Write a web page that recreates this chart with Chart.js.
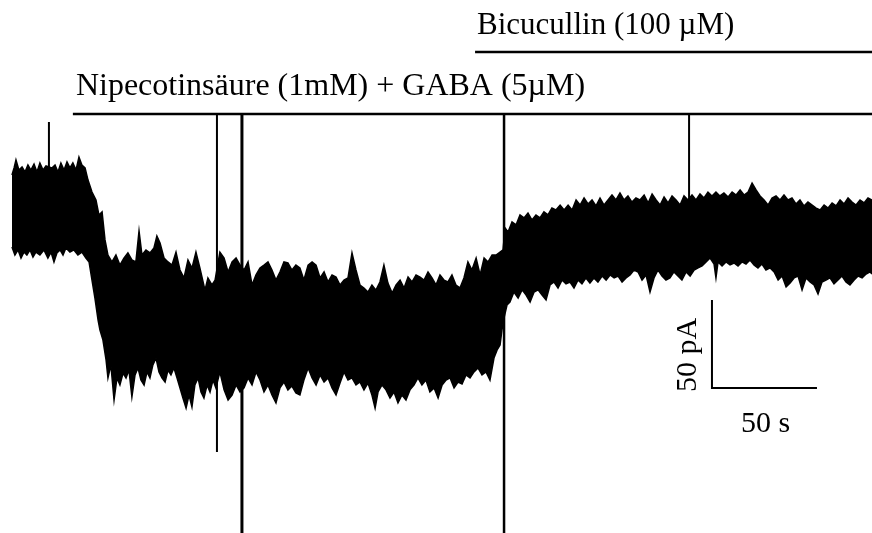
<!DOCTYPE html>
<html>
<head>
<meta charset="utf-8">
<script src="https://cdn.jsdelivr.net/npm/chart.js@4.4.1/dist/chart.umd.min.js"></script>
<style>
  body { margin: 0; background: #fff; }
  canvas { display: block; }
</style>
</head>
<body>
<canvas id="trace" width="872" height="533"></canvas>
<script>
// time in s, current in pA (50 s / 50 pA scale bar)
var upperEdge = [
  [0,19.9],[1.0,23.9],[1.9,28.4],[3.3,22.7],[4.8,24.4],[6.2,21.6],[7.6,25.6],[9.0,22.7],[10.5,26.1],[11.9,21.6],
  [13.3,26.7],[14.8,22.7],[16.2,25.0],[19.0,23.9],[20.5,25.6],[21.9,21.6],[23.3,26.7],[24.8,22.7],[26.2,27.3],[27.6,23.9],
  [29.0,26.7],[30.5,22.7],[31.9,30.1],[33.3,25.6],[34.8,23.9],[36.2,17.0],[38.1,10.2],[40.0,5.7],[41.4,-2.8],[42.9,-1.1],
  [44.3,-17.0],[45.7,-25.6],[47.6,-29.5],[49.5,-25.6],[51.4,-31.3],[53.3,-27.3],[55.2,-24.4],[57.1,-28.4],[59.0,-29.5],[60.5,-11.9],
  [61.9,-25.6],[63.8,-22.7],[65.7,-24.4],[67.6,-21.6],[69.0,-14.8],[70.5,-18.8],[72.4,-27.3],[74.3,-29.5],[76.2,-31.3],[78.1,-23.9],
  [80.0,-34.1],[81.9,-38.6],[83.8,-28.4],[85.7,-33.0],[87.6,-23.9],[89.5,-33.0],[91.9,-45.5],[93.3,-38.6],[95.2,-42.6],[96.7,-39.8],
  [99.0,-23.9],[101.0,-27.3],[102.9,-35.2],[104.8,-29.5],[106.7,-27.3],[108.6,-31.3],[110.5,-34.1],[112.4,-29.5],[114.3,-42.6],[116.2,-36.9],
  [118.1,-33.0],[120.0,-31.3],[121.9,-29.5],[123.8,-34.1],[125.7,-39.8],[127.6,-35.2],[129.5,-29.5],[131.4,-30.1],[133.3,-34.1],[135.2,-31.3],
  [137.1,-33.0],[139.0,-39.8],[141.0,-31.3],[142.9,-29.5],[144.8,-31.3],[146.7,-38.6],[148.6,-35.2],[150.5,-40.9],[152.4,-36.9],[154.3,-38.1],
  [156.2,-42.6],[158.1,-39.8],[160.0,-38.6],[161.9,-24.4],[163.8,-34.1],[165.7,-42.6],[167.6,-44.3],[169.5,-46.6],[171.4,-42.6],[173.3,-45.5],
  [175.2,-40.9],[177.1,-31.3],[179.0,-41.5],[181.0,-47.2],[182.9,-42.6],[184.8,-39.8],[186.7,-44.3],[188.6,-38.1],[190.5,-40.9],[192.4,-36.9],
  [194.3,-38.1],[196.2,-39.8],[198.1,-35.2],[200.0,-38.6],[201.9,-42.6],[203.8,-36.9],[205.7,-39.8],[207.6,-40.9],[209.5,-36.9],[211.4,-42.6],
  [213.3,-44.3],[215.2,-38.6],[217.1,-29.5],[219.0,-34.1],[221.0,-27.3],[222.9,-36.9],[224.8,-27.3],[226.7,-29.5],[228.6,-25.6],[230.5,-25.6],
  [232.4,-23.9],[233.8,-22.7],[234.8,-10.2],[236.2,-12.5],[238.1,-6.8],[240.0,-8.5],[241.9,-2.8],[243.8,-4.5],[245.7,-1.7],[247.6,-5.7],
  [249.5,-2.8],[251.4,-4.5],[253.3,-1.1],[255.2,-2.8],[257.1,1.1],[259.0,0],[261.0,2.8],[262.9,0],[264.8,2.8],[266.7,0],
  [268.6,5.7],[270.5,2.8],[272.4,6.8],[274.3,3.4],[276.2,5.7],[278.1,2.3],[280.0,6.8],[281.9,2.8],[283.8,5.7],[285.7,8.5],
  [287.6,5.7],[289.5,9.7],[291.4,5.7],[293.3,8.0],[295.2,4.5],[297.1,6.8],[299.0,5.7],[301.0,8.5],[302.9,4.0],[304.8,9.1],
  [306.7,5.7],[308.6,2.8],[310.5,7.4],[312.4,4.0],[314.3,8.0],[316.2,5.7],[318.1,2.8],[320.0,8.0],[321.9,5.7],[323.8,8.5],
  [325.7,5.7],[327.6,9.1],[329.5,6.8],[331.4,10.2],[333.3,8.0],[335.2,10.2],[337.1,8.0],[339.0,9.7],[341.0,7.4],[342.9,10.2],
  [344.8,8.5],[346.7,11.4],[348.6,8.5],[350.5,10.2],[352.4,15.3],[354.3,11.4],[356.2,8.0],[358.1,5.7],[360.0,2.8],[361.9,6.8],
  [363.8,8.0],[365.7,5.7],[367.6,8.5],[369.5,5.7],[371.4,6.8],[373.3,3.4],[375.2,5.7],[377.1,2.3],[379.0,4.5],[381.0,2.8],
  [382.9,1.1],[384.8,0],[386.7,2.8],[388.6,1.1],[390.5,4.0],[392.4,2.3],[394.3,5.7],[396.2,3.4],[398.1,6.8],[400.0,4.5],
  [401.9,2.8],[403.8,5.7],[405.7,4.0],[407.6,6.8],[409.5,5.7]
];

var lowerEdge = [
  [0,-21.0],[1.4,-25.6],[2.9,-22.7],[4.3,-27.3],[5.7,-23.9],[7.1,-25.6],[8.6,-22.7],[10.0,-26.7],[11.4,-23.9],[13.3,-25.6],
  [15.2,-22.7],[17.1,-27.3],[18.6,-23.9],[20.0,-29.5],[21.4,-24.4],[22.9,-22.7],[24.3,-25.6],[25.7,-21.6],[27.6,-23.9],[29.5,-22.7],
  [31.4,-25.6],[33.3,-23.9],[35.2,-27.3],[36.7,-29.5],[38.1,-39.8],[39.5,-50.0],[41.0,-62.5],[41.9,-68.2],[43.3,-73.8],[44.8,-85.2],
  [45.7,-95.4],[47.1,-88.0],[48.6,-107.9],[50.0,-95.4],[51.4,-99.4],[52.9,-92.6],[54.3,-95.4],[55.7,-90.9],[57.1,-106.2],[58.6,-93.7],
  [60.0,-89.7],[61.4,-96.6],[62.9,-99.4],[64.3,-92.0],[65.7,-95.4],[67.1,-88.0],[68.6,-84.1],[70.0,-92.0],[71.4,-95.4],[72.9,-97.7],
  [74.3,-90.9],[75.7,-93.7],[77.1,-89.7],[78.6,-95.4],[80.0,-101.1],[81.4,-106.8],[82.9,-112.5],[84.3,-105.1],[85.7,-111.9],[87.1,-99.4],
  [88.6,-95.4],[90.0,-103.4],[91.4,-106.8],[92.9,-99.4],[94.3,-103.4],[95.7,-96.6],[97.1,-101.1],[99.0,-92.0],[101.0,-102.2],[102.9,-107.9],
  [104.8,-105.1],[106.7,-99.4],[108.6,-103.4],[110.5,-101.1],[112.4,-95.4],[114.3,-99.4],[116.2,-92.0],[118.1,-96.6],[120.0,-103.4],[121.9,-99.4],
  [123.8,-105.1],[125.7,-109.6],[127.6,-101.1],[129.5,-97.7],[131.4,-102.2],[133.3,-100.0],[135.2,-103.9],[137.1,-105.1],[139.0,-96.6],[141.0,-89.7],
  [142.9,-95.4],[144.8,-99.4],[146.7,-93.7],[148.6,-97.7],[150.5,-95.4],[152.4,-101.1],[154.3,-105.1],[156.2,-98.3],[158.1,-92.0],[160.0,-96.6],
  [161.9,-95.4],[163.8,-99.4],[165.7,-97.7],[167.6,-102.2],[169.5,-98.3],[171.4,-105.1],[172.9,-112.5],[174.3,-103.4],[176.2,-99.4],[178.1,-102.2],
  [180.0,-106.8],[181.9,-103.4],[183.8,-109.6],[185.7,-105.1],[187.6,-107.9],[189.5,-102.2],[191.4,-99.4],[193.3,-95.4],[195.2,-99.4],[197.1,-96.6],
  [199.0,-103.4],[201.0,-101.1],[202.9,-106.8],[204.8,-99.4],[206.7,-96.6],[208.6,-95.4],[210.5,-101.1],[212.4,-97.7],[214.3,-98.8],[216.2,-93.7],
  [218.1,-95.4],[220.0,-92.0],[221.9,-89.7],[223.8,-93.7],[225.7,-92.0],[227.6,-96.6],[229.5,-84.1],[231.0,-79.5],[232.4,-76.7],[233.3,-68.2],
  [234.3,-61.3],[235.7,-54.0],[237.1,-52.3],[239.0,-46.6],[241.0,-50.0],[242.9,-45.4],[244.8,-48.3],[246.7,-52.3],[248.6,-46.6],[250.5,-45.4],
  [252.4,-48.3],[254.3,-51.1],[256.2,-42.6],[258.1,-40.9],[260.0,-44.3],[261.9,-39.8],[263.8,-42.0],[265.7,-40.9],[267.6,-44.3],[269.5,-39.8],
  [271.4,-42.0],[273.3,-38.6],[275.2,-41.5],[277.1,-38.6],[279.0,-40.9],[281.0,-37.5],[282.9,-39.8],[284.8,-36.9],[286.7,-38.6],[288.6,-37.5],
  [290.5,-40.9],[292.4,-38.6],[294.3,-36.9],[296.2,-34.1],[298.1,-35.2],[300.0,-39.8],[301.9,-36.9],[303.8,-46.6],[305.7,-38.6],[307.6,-34.1],
  [309.5,-37.5],[311.4,-39.8],[313.3,-38.6],[315.2,-35.2],[317.1,-37.5],[319.0,-39.8],[321.0,-35.2],[322.9,-37.5],[324.8,-34.1],[326.7,-32.9],
  [328.6,-31.8],[330.5,-29.5],[332.4,-27.3],[334.3,-30.7],[335.2,-38.6],[336.2,-29.5],[338.1,-31.8],[340.0,-29.5],[341.9,-31.2],[343.8,-30.1],
  [345.7,-31.8],[347.6,-29.5],[349.5,-30.7],[351.4,-28.4],[353.3,-31.2],[355.2,-32.9],[357.1,-30.7],[359.0,-34.1],[361.0,-32.9],[362.9,-35.2],
  [364.8,-39.8],[366.7,-37.5],[368.6,-43.7],[370.5,-41.5],[372.4,-38.6],[374.3,-37.5],[376.2,-45.4],[378.1,-38.6],[380.0,-40.9],[381.9,-42.6],
  [383.8,-47.7],[385.7,-40.9],[387.6,-39.8],[389.5,-38.6],[391.4,-42.0],[393.3,-39.8],[395.2,-37.5],[397.1,-40.9],[399.0,-42.6],[401.0,-39.8],
  [402.9,-37.5],[404.8,-38.6],[406.7,-36.4],[408.6,-35.2],[409.5,-36.4]
];

// stimulus / switching artifacts: time, top, bottom (pA)
var artifactTime = [17.6, 97.6, 109.5, 234.3, 322.4];
var artifactTop = [50, 54.5, 54.5, 54.5, 54.5];
var artifactBottom = [23, -137.5, -183.5, -183.5, 6];
var artifactWidth = [2, 2, 3, 2.5, 2];

// drug application bars
var drugLabels = ['Nipecotinsäure (1mM) + GABA (5µM)', 'Bicucullin (100 µM)'];
var drugStart = [29.0, 220.5];
var drugEnd = [409.5, 409.5];
var drugLevel = [54.5, 89.7];

// scale bar: 50 s x 50 pA
var scaleBarTime = [333.3, 383.3];
var scaleBarCurrent = [-51.1, -101.1];

var toXY = function (p) { return { x: p[0], y: p[1] }; };

var datasets = [
  {
    data: upperEdge.map(toXY),
    borderColor: '#000', backgroundColor: '#000', borderWidth: 1.5,
    fill: '+1', pointRadius: 0, tension: 0
  },
  {
    data: lowerEdge.map(toXY),
    borderColor: '#000', borderWidth: 1.5,
    fill: false, pointRadius: 0, tension: 0
  }
];

artifactTime.forEach(function (t, i) {
  datasets.push({
    data: [{ x: t, y: artifactTop[i] }, { x: t, y: artifactBottom[i] }],
    borderColor: '#000', borderWidth: artifactWidth[i], pointRadius: 0, fill: false
  });
});

drugStart.forEach(function (t, i) {
  datasets.push({
    data: [{ x: t, y: drugLevel[i] }, { x: drugEnd[i], y: drugLevel[i] }],
    borderColor: '#000', borderWidth: 2.5, pointRadius: 0, fill: false
  });
});

datasets.push({
  data: [
    { x: scaleBarTime[0], y: scaleBarCurrent[0] },
    { x: scaleBarTime[0], y: scaleBarCurrent[1] },
    { x: scaleBarTime[1], y: scaleBarCurrent[1] }
  ],
  borderColor: '#000', borderWidth: 2, pointRadius: 0, fill: false, borderJoinStyle: 'miter'
});

var serif = '"Liberation Serif", "Times New Roman", serif';
var drugFont = ['32px ' + serif, '31px ' + serif];
var drugTextDx = [3, 2];
var drugTextDy = [19, 18];

var textPlugin = {
  id: 'traceText',
  afterDatasetsDraw: function (chart) {
    var c = chart.ctx, xs = chart.scales.x, ys = chart.scales.y;
    c.save();
    c.fillStyle = '#000';
    c.textBaseline = 'alphabetic';
    c.textAlign = 'left';
    drugLabels.forEach(function (txt, i) {
      c.font = drugFont[i];
      var px = xs.getPixelForValue(drugStart[i]) + drugTextDx[i];
      var py = ys.getPixelForValue(drugLevel[i]) - drugTextDy[i];
      c.fillText(txt, px, py);
    });
    c.font = '30px ' + serif;
    // 50 s
    c.textAlign = 'center';
    var sx = (xs.getPixelForValue(scaleBarTime[0]) + xs.getPixelForValue(scaleBarTime[1])) / 2;
    var sy = ys.getPixelForValue(scaleBarCurrent[1]) + 44;
    c.fillText('50 s', sx + 1, sy);
    // 50 pA, rotated
    var vx = xs.getPixelForValue(scaleBarTime[0]) - 16;
    var vy = (ys.getPixelForValue(scaleBarCurrent[0]) + ys.getPixelForValue(scaleBarCurrent[1])) / 2;
    c.translate(vx, vy + 11);
    c.rotate(-Math.PI / 2);
    c.fillText('50 pA', 0, 0);
    c.restore();
  }
};

new Chart(document.getElementById('trace'), {
  type: 'line',
  data: { datasets: datasets },
  options: {
    responsive: false,
    animation: false,
    layout: { padding: 0 },
    plugins: { legend: { display: false }, tooltip: { enabled: false } },
    scales: {
      x: { type: 'linear', display: false, min: -5.7, max: 409.5 },
      y: { type: 'linear', display: false, min: -183.5, max: 119.3 }
    }
  },
  plugins: [textPlugin]
});
</script>
</body>
</html>
